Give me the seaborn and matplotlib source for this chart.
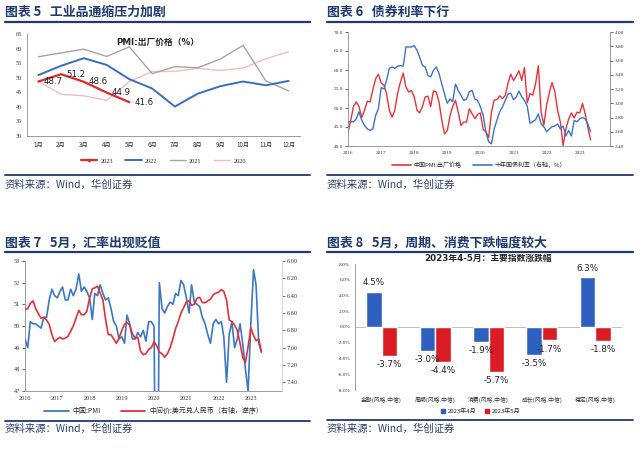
import numpy as np
import pandas as pd
import matplotlib
matplotlib.use('Agg')
import matplotlib.pyplot as plt
import seaborn as sns
from matplotlib.lines import Line2D

# ---------------- data ----------------
months_cn = ['1月', '2月', '3月', '4月', '5月', '6月', '7月', '8月', '9月', '10月', '11月', '12月']
pmi_out_2023 = [48.7, 51.2, 48.6, 44.9, 41.6]
pmi_out_2022 = [50.9, 54.1, 56.7, 54.4, 49.5, 46.3, 40.1, 44.5, 47.1, 48.7, 47.4, 48.9]
pmi_out_2021 = [57.2, 58.5, 59.8, 57.3, 60.6, 51.4, 53.8, 53.4, 56.4, 61.1, 48.9, 45.5]
pmi_out_2020 = [48.7, 44.3, 43.8, 42.2, 48.7, 52.1, 52.2, 53.2, 52.5, 53.3, 56.5, 58.9]

pmi_out_2016 = [43.7, 46.8, 50.4, 51.6, 50.4, 47.5, 49.4, 51.8, 51.6, 54.8, 57.7, 58.9]
pmi_out_2017 = [56.6, 56.0, 53.8, 49.4, 47.6, 49.4, 53.8, 56.8, 59.2, 55.5, 54.2, 54.6]
pmi_out_2018 = [52.9, 49.4, 48.7, 50.3, 52.9, 53.1, 50.4, 54.5, 54.2, 51.6, 46.8, 43.2]
pmi_out_2019 = [44.1, 48.1, 50.4, 52.0, 48.9, 45.4, 46.3, 46.3, 49.8, 48.5, 47.2, 48.3]

y10_2016 = [2.74, 2.74, 2.74, 2.78, 2.88, 2.76, 2.69, 2.64, 2.62, 2.64, 2.83, 2.92]
y10_2017 = [3.22, 3.20, 3.32, 3.49, 3.51, 3.49, 3.52, 3.53, 3.52, 3.79, 3.79, 3.79]
y10_2018 = [3.81, 3.74, 3.65, 3.53, 3.51, 3.39, 3.37, 3.46, 3.51, 3.42, 3.27, 3.13]
y10_2019 = [3.00, 3.06, 3.02, 3.27, 3.18, 3.11, 3.04, 3.06, 3.16, 3.18, 3.06, 3.04]
y10_2020 = [2.95, 2.83, 2.60, 2.46, 2.43, 2.64, 2.76, 2.88, 2.95, 3.04, 3.13, 3.14]
y10_2021 = [3.05, 3.09, 3.17, 3.09, 3.04, 2.96, 2.72, 2.74, 2.77, 2.85, 2.71, 2.67]
y10_2022 = [2.60, 2.64, 2.67, 2.68, 2.71, 2.64, 2.68, 2.54, 2.62, 2.54, 2.76, 2.74]
y10_2023 = [2.78, 2.80, 2.78, 2.71, 2.60]

pmi_2016 = [49.4, 49.0, 50.2, 50.1, 50.1, 50.0, 49.9, 50.4, 50.4, 51.2, 51.7, 51.4]
pmi_2017 = [51.3, 51.6, 51.8, 51.2, 51.2, 51.7, 51.4, 51.7, 52.4, 51.6, 51.8, 51.6]
pmi_2018 = [51.3, 50.3, 51.5, 51.4, 51.9, 51.5, 51.2, 51.3, 50.8, 50.2, 50.0, 49.4]
pmi_2019 = [49.5, 49.2, 50.5, 50.1, 49.4, 49.4, 49.7, 49.5, 49.8, 49.3, 50.2, 50.2]
pmi_2020 = [50.0, 35.7, 52.0, 50.8, 50.6, 50.9, 51.1, 51.0, 51.5, 51.4, 52.1, 51.9]
pmi_2021 = [51.3, 50.6, 51.9, 51.1, 51.0, 50.9, 50.4, 50.1, 49.6, 49.2, 50.1, 50.3]
pmi_2022 = [50.1, 50.2, 49.5, 47.4, 49.6, 50.2, 49.0, 49.4, 50.1, 49.2, 48.0, 47.0]
pmi_2023 = [50.1, 52.6, 51.9, 49.2, 48.8]

cny_2016 = [6.56, 6.55, 6.49, 6.46, 6.55, 6.61, 6.66, 6.65, 6.68, 6.73, 6.85, 6.93]
cny_2017 = [6.90, 6.88, 6.90, 6.89, 6.87, 6.81, 6.75, 6.66, 6.57, 6.62, 6.62, 6.58]
cny_2018 = [6.43, 6.32, 6.31, 6.29, 6.37, 6.45, 6.67, 6.85, 6.85, 6.90, 6.95, 6.89]
cny_2019 = [6.80, 6.73, 6.71, 6.74, 6.84, 6.89, 6.88, 7.04, 7.08, 7.07, 7.02, 7.00]
cny_2020 = [6.93, 6.98, 7.05, 7.07, 7.11, 7.07, 7.00, 6.90, 6.78, 6.70, 6.60, 6.54]
cny_2021 = [6.47, 6.46, 6.51, 6.50, 6.43, 6.42, 6.48, 6.48, 6.46, 6.44, 6.39, 6.37]
cny_2022 = [6.36, 6.33, 6.35, 6.45, 6.68, 6.70, 6.74, 6.80, 6.95, 7.11, 7.17, 6.99]
cny_2023 = [6.77, 6.86, 6.92, 6.90, 7.05]

styles = ['金融(风格.中信)', '周期(风格.中信)', '消费(风格.中信)', '成长(风格.中信)', '稳定(风格.中信)']
chg_apr = [4.5, -3.0, -1.9, -3.5, 6.3]
chg_may = [-3.7, -4.4, -5.7, -1.7, -1.8]

# ---------------- style ----------------
sns.set_theme(style='white')
plt.rcParams['font.family'] = ['Liberation Serif', 'Noto Sans CJK SC', 'DejaVu Sans']
plt.rcParams['axes.unicode_minus'] = False

W, H = 640, 449
fig = plt.figure(figsize=(6.4, 4.49), dpi=100)
fig.patch.set_facecolor('white')
NAVY = '#1f3a6e'
SPINE = '#8c8c8c'
TXT = '#333333'
cjk = ['Noto Sans CJK SC', 'DejaVu Sans']


def fx(px):
    return px / W


def fy(py):
    return 1 - py / H


def header(x0, x1, y_text, y_line, text):
    fig.text(fx(x0), fy(y_text), text, family=cjk, fontsize=9.3, fontweight='bold',
             color=NAVY, va='center', ha='left')
    fig.add_artist(Line2D([fx(x0), fx(x1)], [fy(y_line)] * 2, color=NAVY, lw=1.6))


def footer(x0, x1, y_line, y_text):
    fig.add_artist(Line2D([fx(x0), fx(x1)], [fy(y_line)] * 2, color=NAVY, lw=1.3))
    fig.text(fx(x0), fy(y_text), '资料来源：Wind，华创证券', family=cjk, fontsize=7.5,
             style='italic', color='#2b3f6b', va='center', ha='left')


def style_axes(ax, left=True, bottom=True, right=False):
    for s in ax.spines.values():
        s.set_visible(False)
    for name, flag in (('left', left), ('bottom', bottom), ('right', right)):
        if flag:
            ax.spines[name].set_visible(True)
            ax.spines[name].set_color(SPINE)
            ax.spines[name].set_linewidth(0.6)
    ax.tick_params(axis='both', which='both', labelsize=4.5, colors=TXT, length=2, width=0.5,
                   pad=1.5, direction='out')
    ax.grid(False)
    ax.set_xlabel('')
    ax.set_ylabel('')


# ---------------- panel 1 ----------------
header(5, 310, 12, 22, '图表 5   工业品通缩压力加剧')
ax1 = fig.add_axes([fx(27), fy(136), fx(273), 102 / H])
m = np.arange(1, 13)
series1 = [('2020', pmi_out_2020, '#f3bdbd', 1.0),
           ('2021', pmi_out_2021, '#aaa2a2', 1.0),
           ('2022', pmi_out_2022, '#3b6cc4', 1.4),
           ('2023', pmi_out_2023, '#e2262c', 1.6)]
for name, vals, c, lw in series1:
    sns.lineplot(x=m[:len(vals)], y=vals, ax=ax1, color=c, lw=lw, legend=False)
for i, v in enumerate(pmi_out_2023):
    ax1.annotate(f'{v}', (i + 1, v), xytext=(3.5, 0), textcoords='offset points',
                 ha='left', va='center', fontsize=6.2, color='#222222', family=['DejaVu Sans'])
ax1.set_xlim(0.5, 12.5)
ax1.set_ylim(30, 65)
ax1.set_yticks(np.arange(30, 66, 5))
ax1.set_xticks(m)
ax1.set_xticklabels(months_cn, family=cjk)
style_axes(ax1)
ax1.text(0.48, 0.965, 'PMI:出厂价格（%）', transform=ax1.transAxes, ha='center', va='top',
         fontsize=6.3, fontweight='bold', family=['DejaVu Sans', 'Noto Sans CJK SC'])
h1 = [Line2D([], [], color=c, lw=lw, marker='o' if n == '2023' else None, markersize=1.5)
      for n, _, c, lw in series1[::-1]]
ax1.legend(h1, [s[0] for s in series1[::-1]], loc='center', bbox_to_anchor=(0.5, -0.245),
           ncol=4, frameon=False, fontsize=4.5, handlelength=2.6, handletextpad=0.5,
           columnspacing=2.0)
footer(5, 310, 175, 185)

# ---------------- panel 2 ----------------
header(327, 633, 12, 22, '图表 6   债券利率下行')
dates = pd.date_range('2016-01-01', periods=89, freq='MS')
red2 = pmi_out_2016 + pmi_out_2017 + pmi_out_2018 + pmi_out_2019 + pmi_out_2020 + \
    pmi_out_2021 + pmi_out_2022 + pmi_out_2023
blue2 = y10_2016 + y10_2017 + y10_2018 + y10_2019 + y10_2020 + y10_2021 + y10_2022 + y10_2023
ax2 = fig.add_axes([fx(348), fy(146), fx(262), 114 / H])
ax2b = ax2.twinx()
sns.lineplot(x=dates, y=red2, ax=ax2, color='#e8333b', lw=1.0, legend=False)
sns.lineplot(x=dates, y=blue2, ax=ax2b, color='#3e74c6', lw=1.0, legend=False)
ax2.set_ylim(40, 70)
ax2.set_yticks(np.arange(40, 71, 5))
ax2.set_yticklabels([f'{v:.1f}' for v in np.arange(40, 71, 5)])
ax2b.set_ylim(2.4, 4.0)
ax2b.set_yticks(np.arange(2.4, 4.01, 0.2))
ax2b.set_yticklabels([f'{v:.2f}' for v in np.arange(2.4, 4.01, 0.2)])
ax2.set_xlim(pd.Timestamp('2016-01-01'), pd.Timestamp('2023-12-01'))
years = pd.date_range('2016-01-01', '2023-01-01', freq='YS')
ax2.set_xticks(years)
ax2.set_xticklabels([str(d.year) for d in years])
style_axes(ax2)
style_axes(ax2b, left=False, bottom=False, right=True)
for a in (ax2, ax2b):
    a.tick_params(labelsize=3.8)
h2 = [Line2D([], [], color='#e8333b', lw=1.2), Line2D([], [], color='#3e74c6', lw=1.2)]
ax2.legend(h2, ['中国PMI:出厂价格', '十年国债利率（右轴，%）'], loc='center',
           bbox_to_anchor=(0.5, -0.165), ncol=2, frameon=False,
           handlelength=3.2, handletextpad=0.5, columnspacing=1.8,
           prop={'family': cjk, 'size': 4.3})
footer(327, 633, 175, 185)

# ---------------- panel 3 ----------------
header(5, 310, 242, 252, '图表 7   5月，汇率出现贬值')
pmi3 = pmi_2016 + pmi_2017 + pmi_2018 + pmi_2019 + pmi_2020 + pmi_2021 + pmi_2022 + pmi_2023
cny3 = cny_2016 + cny_2017 + cny_2018 + cny_2019 + cny_2020 + cny_2021 + cny_2022 + cny_2023
ax3 = fig.add_axes([fx(25), fy(391), fx(257), 130 / H])
ax3b = ax3.twinx()
sns.lineplot(x=dates, y=pmi3, ax=ax3, color='#3a78c3', lw=1.2, legend=False)
sns.lineplot(x=dates, y=cny3, ax=ax3b, color='#e3313a', lw=1.2, legend=False)
ax3.set_ylim(47, 53)
ax3.set_yticks(np.arange(47, 54, 1))
ax3b.set_ylim(7.5, 6.0)
ax3b.set_yticks(np.arange(6.0, 7.41, 0.2))
ax3b.set_yticklabels([f'{v:.2f}' for v in np.arange(6.0, 7.41, 0.2)])
ax3.set_xlim(pd.Timestamp('2016-01-01'), pd.Timestamp('2023-12-20'))
ax3.set_xticks(years)
ax3.set_xticklabels([str(d.year) for d in years])
style_axes(ax3)
style_axes(ax3b, left=False, bottom=False, right=True)
ax3b.spines['right'].set_color('#d0d0d0')
for a in (ax3, ax3b):
    a.tick_params(labelsize=4.5)
h3 = [Line2D([], [], color='#3a78c3', lw=1.3), Line2D([], [], color='#e3313a', lw=1.3)]
ax3.legend(h3, ['中国:PMI', '中间价:美元兑人民币（右轴，逆序）'], loc='center',
           bbox_to_anchor=(0.5, -0.155), ncol=2, frameon=False,
           handlelength=3.5, handletextpad=0.5, columnspacing=3,
           prop={'family': cjk, 'size': 5})
footer(5, 310, 421, 429)

# ---------------- panel 4 ----------------
header(327, 633, 242, 252, '图表 8   5月，周期、消费下跌幅度较大')
df4 = pd.DataFrame({'类别': styles * 2,
                    '涨跌幅': chg_apr + chg_may,
                    '月份': ['2023年4月'] * 5 + ['2023年5月'] * 5})
ax4 = fig.add_axes([fx(355), fy(390), fx(267), 126 / H])
sns.barplot(data=df4, x='类别', y='涨跌幅', hue='月份', ax=ax4,
            palette=['#2f60bf', '#dc1c24'], width=0.58, saturation=1, legend=False)
ax4.set_ylim(-8, 8)
ax4.set_yticks(np.arange(-8, 8.1, 2))
ax4.set_yticklabels([f'{v:.1f}%' for v in np.arange(-8, 8.1, 2)])
ax4.set_xlim(-0.5, 4.5)
style_axes(ax4, bottom=False)
ax4.tick_params(axis='x', length=0, labelsize=4.2, pad=5)
for lab in ax4.get_xticklabels():
    lab.set_family(cjk)
ax4.tick_params(axis='y', labelsize=3.8)
ax4.axhline(0, color='#bfbfbf', lw=0.7, zorder=0)
for cont in ax4.containers:
    ax4.bar_label(cont, fmt='%.1f%%', padding=3, fontsize=6.3, color='#222222',
                  family=['DejaVu Sans'])
ax4.text(0.5, 1.045, '2023年4-5月：主要指数涨跌幅', transform=ax4.transAxes, ha='center',
         va='center', fontsize=6.3, fontweight='bold',
         family=['DejaVu Sans', 'Noto Sans CJK SC'])
h4 = [Line2D([], [], color='#2f60bf', marker='s', lw=0, markersize=2.5),
      Line2D([], [], color='#dc1c24', marker='s', lw=0, markersize=2.5)]
ax4.legend(h4, ['2023年4月', '2023年5月'], loc='center', bbox_to_anchor=(0.47, -0.17),
           ncol=2, frameon=False, handlelength=0.8, handletextpad=0.3, columnspacing=1.5,
           prop={'family': cjk, 'size': 4.3})
footer(327, 633, 420, 429)

fig.savefig('out.png', dpi=100, facecolor='white')
